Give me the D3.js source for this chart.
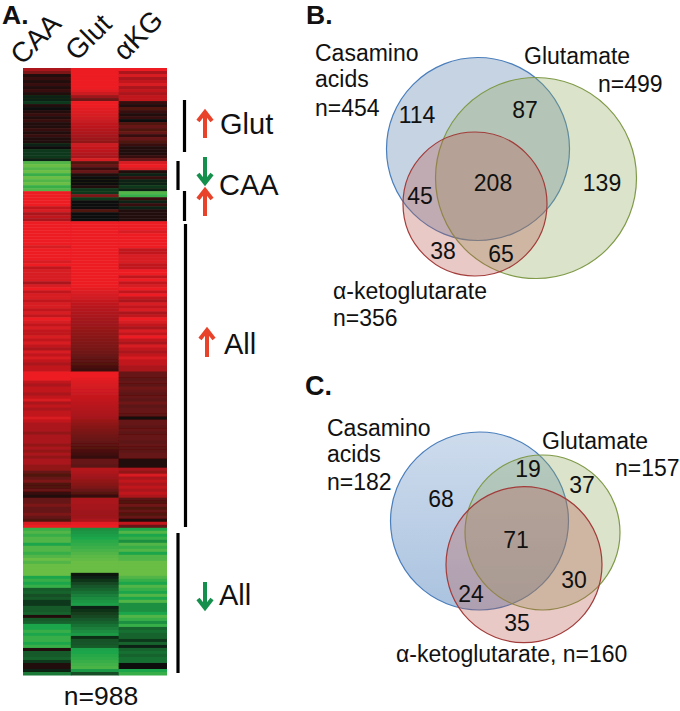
<!DOCTYPE html>
<html>
<head>
<meta charset="utf-8">
<script src="https://cdn.jsdelivr.net/npm/d3@7"></script>
<style>
  html, body { margin: 0; padding: 0; background: #fff; }
  svg { display: block; }
  text { font-family: "Liberation Sans", Arial, sans-serif; fill: #111; }
</style>
</head>
<body>
<svg></svg>
<script>
// heatmap values, one entry per strip of rows, top to bottom (-10 green .. 10 red)
const columns = ['CAA', 'Glut', 'αKG'];

const caa = [
  7,5,1,2,1,2,1,2,1,-1,
  -1,-2,1,0,1,2,1,2,1,1,
  2,1,2,1,1,-1,0,-2,-2,-2,
  -1,-9,-10,-9,-10,-8,-10,-9,-10,-8,
  -9,10,10,10,10,10,8,9,7,8,
  7,10,10,10,10,10,10,10,10,9,
  10,10,10,10,9,10,8,9,9,9,
  9,7,9,10,8,9,9,8,9,9,
  8,9,8,10,9,8,9,8,8,9,
  8,9,8,7,9,8,9,8,7,8,
  8,10,10,10,8,7,8,8,7,8,
  9,7,8,7,8,8,9,8,7,7,
  7,6,7,7,7,6,7,6,7,6,
  7,7,6,6,4,3,4,5,3,3,
  4,2,1,4,4,5,4,4,5,4,
  3,9,10,-8,-9,-8,-9,-9,-7,-9,
  -9,-8,-9,-10,-9,-10,-10,-10,-10,-7,
  -8,-7,-8,-3.5,-4,-3,-3.5,-2,-2,-3.5,
  -3.5,-4,1,-3.5,-4,-7,-7,-8,-7,-8,
  -8,-7,-8,1,-3.5,-3.5,-4,-2,1,1,
  -1,-5
];

const glut = [
  10,10,10,10,10,10,10,9.5,8.5,6.5,
  4.5,10,10,9.6,9.3,9,8.7,8.4,8.1,7.8,
  7.5,7.2,6.9,6.5,6,8.5,8.2,7.8,7.4,7,
  9,3,4,2,4,1,0,0,0,1,
  -2,-2,5,-2,0,0,0,3,0,0,
  0,10,10,10,10,10,10,10,10,10,
  10,10,10,10,10,10,10,10,10,10,
  10,10,10,9.6,9.2,8.9,8.6,8.2,7.9,7.6,
  7.4,7.2,7,6.8,6.6,6.4,6.2,6,5.8,5.6,
  5.4,5.2,5,4.8,4.5,4.2,3.9,3.5,3.1,2.7,
  2.2,10,10,9.6,9.3,9,8.8,8.6,8.4,8.2,
  8,7.8,7.6,7.4,7.2,7,6.8,6.2,5.8,5.4,
  5.1,4.8,4.5,4.2,3.9,3.6,3.2,2.8,2.4,1.8,
  4,4,3.5,7.5,7.2,6.8,6.4,6,5.5,5,
  4.2,3.2,2,7,7,6.8,6.8,6.5,6.5,6.5,
  7,9.5,10,-6,-6.3,-6.6,-7,-7.4,-7.8,-8.2,
  -8.6,-9,-9.4,-9.7,-10,-10,-10,-10,-0.5,-1,
  -1.8,-2.6,-3.4,-4,-4.6,-5.2,-5.8,-6.2,-6.6,-1,
  -1.6,-2.2,-2.8,-3.4,-4,-4.6,-5.2,-5.8,-6.4,-1.5,
  -3.2,-3.4,-3.6,-6.8,-7,-7.3,-7.6,-8,-8.4,-8.8,
  -6.5,-3
];

const akg = [
  10,7,9,7,8,9,7,8,7,8,
  8,2,1,3,2,1,2,0,3,4,
  3,4,2,4,3,2,1,1,1,2,
  4,9,10,9,1,-1,2,-1,-1,-2,
  -1,-9,-8,2,-1,2,-1,1,1,1,
  1,10,10,10,9,10,10,10,10,10,
  8,8,9,9,9,8,8,10,10,8,
  10,8,9,10,8,10,8,7,9,8,
  9,7,8,10,9,8,7,9,8,10,
  8,7,9,8,7,8,9,8,8,7,
  7,4,4,3.5,4,3.5,4.5,4,3.5,4,
  3.5,4.5,3.5,4,4,3.5,0.5,4,4,3.5,
  4,3.5,4,4,3.5,4,3.5,3.5,4,4,
  1,1,1,7,6,9,7,8,7,8,
  7,8,7,3.5,3,4.5,3,4,3,4,
  1,8,4,-7,-9,-7,-8,-6,-9,-8,
  -9,-7,-9,-9,-10,-10,-10,-10,-10,-9,
  -8,-7,-9,-8,-7,-9,-7,-9,-6,-6,
  -6,-7,-9,-8,-6,-8,-4,-4.5,-4,-4,
  -2,-4,-1,-4,-4.5,-4,-4.5,-4.5,0,0,
  -7,-8
];

const heat = [caa, glut, akg];

// venn counts
const vennBCounts = [114, 87, 208, 139, 45, 38, 65];
const vennCCounts = [68, 19, 37, 71, 30, 24, 35];

const w = 680;
const h = 711;

const svg = d3.select('svg')
  .attr('width', w)
  .attr('height', h);

// Scales
const xScale = d3.scaleBand()
  .domain(columns)
  .range([23, 166.5]);

const yScale = d3.scaleBand()
  .domain(d3.range(caa.length))
  .range([68, 675]);

const color = d3.scaleLinear()
  .domain([-10, -7, 0, 10])
  .range(['#6abd45', '#1fa64b', '#0c0d08', '#ed1c24']);

const defs = svg.append('defs');

// soft look of the scanned figure
defs.append('filter')
  .attr('id', 'soft')
  .attr('x', 0).attr('y', 0).attr('width', 1).attr('height', 1)
  .append('feGaussianBlur')
  .attr('stdDeviation', 0.5);

// blue circle of panel C gets deeper towards the bottom
const blueGrad = defs.append('linearGradient')
  .attr('id', 'blueC')
  .attr('x1', 0).attr('y1', 0).attr('x2', 0).attr('y2', 1);
blueGrad.append('stop').attr('offset', '0%').attr('stop-color', '#4f81bd').attr('stop-opacity', 0.28);
blueGrad.append('stop').attr('offset', '100%').attr('stop-color', '#4f81bd').attr('stop-opacity', 0.48);

// A. heatmap
const heatG = svg.append('g').attr('filter', 'url(#soft)');

heatG.selectAll('g')
  .data(columns)
  .enter()
  .append('g')
  .each(function(col, i) {
    d3.select(this).selectAll('rect')
      .data(heat[i])
      .enter()
      .append('rect')
      .attr('x', xScale(col))
      .attr('y', (d, r) => yScale(r))
      .attr('width', xScale.bandwidth() + 0.5)
      .attr('height', yScale.bandwidth() + 0.5)
      .attr('fill', d => color(d));
  });

const labelNudge = [[-1, 66], [6, 62], [6, 62]];
svg.selectAll('.colLabel')
  .data(columns)
  .enter()
  .append('text')
  .attr('class', 'colLabel')
  .attr('transform', (d, i) => `translate(${xScale(d) + labelNudge[i][0]},${labelNudge[i][1]}) rotate(-45)`)
  .attr('font-size', 28)
  .text(d => d);

function label(x, y, s, size, anchor, weight) {
  svg.append('text')
    .attr('x', x)
    .attr('y', y)
    .attr('font-size', size)
    .attr('text-anchor', anchor || 'start')
    .attr('font-weight', weight || 'normal')
    .text(s);
}

label(2, 24, 'A.', 26.5, 'start', 'bold');
label(306, 24, 'B.', 26.5, 'start', 'bold');
label(305, 395, 'C.', 27, 'start', 'bold');

// brackets
const brackets = [[184.5, 100, 152], [178, 161, 190], [184.5, 191, 221], [185.5, 224, 527], [178, 533, 673]];
svg.selectAll('.bracket')
  .data(brackets)
  .enter()
  .append('line')
  .attr('class', 'bracket')
  .attr('x1', d => d[0])
  .attr('x2', d => d[0])
  .attr('y1', d => d[1])
  .attr('y2', d => d[2])
  .attr('stroke', '#000')
  .attr('stroke-width', 3.2);

// arrows, [x, tail y, tip y, colour]
const red = '#e8432a';
const green = '#14904c';
const arrows = [[205, 138, 112, red], [205, 157, 183, green], [205, 216, 190, red], [207, 357, 330, red], [205, 582, 608, green]];
svg.selectAll('.arrow')
  .data(arrows)
  .enter()
  .append('path')
  .attr('class', 'arrow')
  .attr('d', d => {
    const s = d[2] < d[1] ? 1 : -1;
    return `M${d[0]},${d[1]}V${d[2]}M${d[0] - 7},${d[2] + s * 9}L${d[0]},${d[2]}L${d[0] + 7},${d[2] + s * 9}`;
  })
  .attr('fill', 'none')
  .attr('stroke', d => d[3])
  .attr('stroke-width', 4);

label(220, 134, 'Glut', 29);
label(219, 195, 'CAA', 29);
label(224, 354, 'All', 29);
label(219, 605, 'All', 29);
label(101, 705, 'n=988', 26.5, 'middle');

// Venn circles, blue / green / red
const vennColors = ['#4f77a8', '#8fa85a', '#b8574f'];
const vennStrokes = ['#4a7ebb', '#7f9a48', '#a23c3a'];

function venn(circles, counts, spots, blueFill) {
  const g = svg.append('g');
  g.selectAll('circle')
    .data(circles)
    .enter()
    .append('circle')
    .attr('cx', d => d[0])
    .attr('cy', d => d[1])
    .attr('r', d => d[2])
    .attr('fill', (d, i) => (i === 0 && blueFill) ? blueFill : vennColors[i])
    .attr('fill-opacity', (d, i) => (i === 0 && blueFill) ? 1 : 0.32)
    .attr('stroke', (d, i) => vennStrokes[i])
    .attr('stroke-width', 1.2);

  g.selectAll('text')
    .data(counts)
    .enter()
    .append('text')
    .attr('x', (d, i) => spots[i][0])
    .attr('y', (d, i) => spots[i][1])
    .attr('text-anchor', 'middle')
    .attr('font-size', 23)
    .text(d => d);
}

venn([[478, 149, 91.5], [536, 178, 100.5], [475, 204, 72]], vennBCounts,
  [[417, 123], [525, 118], [493, 191], [602, 191], [420, 204], [443, 259], [501, 262]]);

venn([[479.5, 521, 89], [542.5, 532.5, 77.5], [524, 564.7, 78]], vennCCounts,
  [[441, 507], [528, 477], [582, 493], [516, 548], [574, 588], [471, 602], [517, 631]], 'url(#blueC)');

label(315, 61, 'Casamino', 23);
label(315, 87, 'acids', 23);
label(315, 116, 'n=454', 23);
label(524, 64, 'Glutamate', 23);
label(598, 92, 'n=499', 23);
label(333, 299, 'α-ketoglutarate', 23);
label(333, 326, 'n=356', 23);

label(327, 436, 'Casamino', 23);
label(327, 462, 'acids', 23);
label(327, 490, 'n=182', 23);
label(542, 449, 'Glutamate', 23);
label(615, 476, 'n=157', 23);
label(396, 662, 'α-ketoglutarate, n=160', 23);
</script>
</body>
</html>
